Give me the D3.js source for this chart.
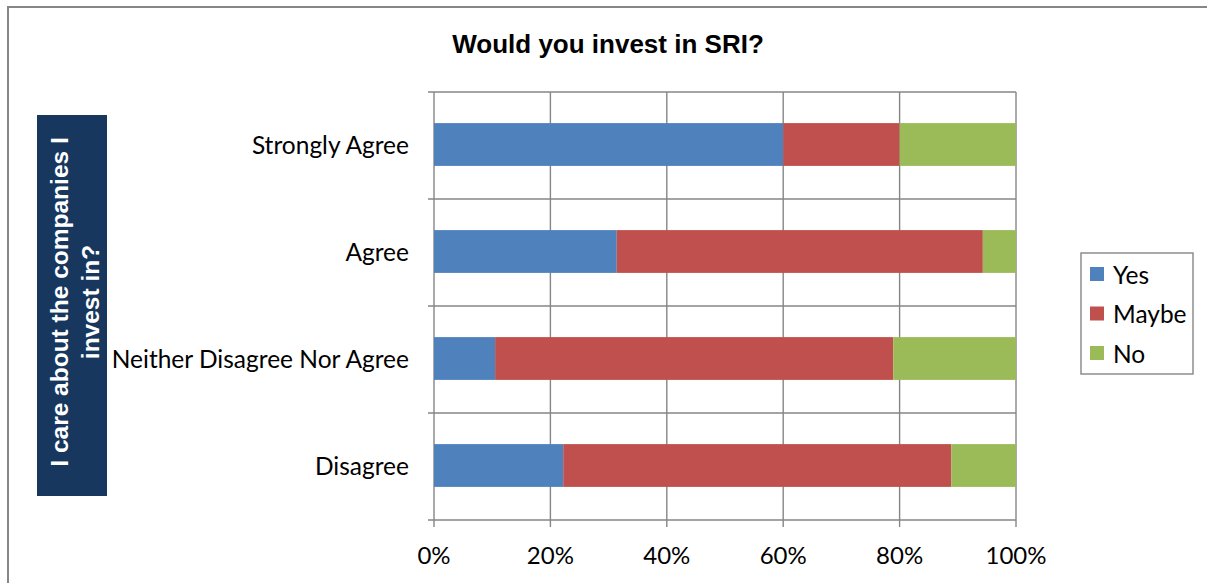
<!DOCTYPE html>
<html>
<head>
<meta charset="utf-8">
<script src="https://cdn.jsdelivr.net/npm/d3@7/dist/d3.min.js"></script>
<style>
  html, body { margin: 0; padding: 0; background: #fff; }
  svg { display: block; }
</style>
</head>
<body>
<svg id="chart" width="1207" height="583"></svg>
<script>
// Survey responses, percent of each agreement group
const categories = ["Strongly Agree", "Agree", "Neither Disagree Nor Agree", "Disagree"];
const seriesNames = ["Yes", "Maybe", "No"];
const yesValues   = [60.0, 31.4, 10.5, 22.2];
const maybeValues = [20.0, 62.9, 68.4, 66.7];
const noValues    = [20.0,  5.7, 21.1, 11.1];
const tickValues  = [0, 20, 40, 60, 80, 100];
const tickLabels  = ["0%", "20%", "40%", "60%", "80%", "100%"];
const colors      = ["#4F81BD", "#C0504D", "#9BBB59"];

const rows = categories.map((c, i) => ({
  category: c, Yes: yesValues[i], Maybe: maybeValues[i], No: noValues[i]
}));

const svg = d3.select("#chart");
const gridColor = "#868686";
const labelFont = "Lato, 'Open Sans', sans-serif";
const boldFont = "'Liberation Sans', Arial, sans-serif";

// outer chart frame (runs off the right and bottom edges)
svg.append("rect")
  .attr("x", 8).attr("y", 7)
  .attr("width", 1260).attr("height", 640)
  .attr("fill", "#fff")
  .attr("stroke", gridColor).attr("stroke-width", 2);

const x = d3.scaleLinear().domain([0, 100]).range([434, 1016]);
const y = d3.scaleBand().domain(categories).range([92, 520]).padding(0);

// vertical gridlines
svg.append("g").selectAll("line").data(tickValues).join("line")
  .attr("x1", d => x(d)).attr("x2", d => x(d))
  .attr("y1", 92).attr("y2", 527)
  .attr("stroke", gridColor).attr("stroke-width", 1.4);

// category boundaries with left tick marks
const bounds = categories.map(c => y(c)).concat([y.range()[1]]);
svg.append("g").selectAll("line").data(bounds).join("line")
  .attr("x1", 428).attr("x2", x(100))
  .attr("y1", d => d).attr("y2", d => d)
  .attr("stroke", gridColor).attr("stroke-width", 1.4);

// stacked bars
const stack = d3.stack().keys(seriesNames)(rows);
const barH = y.bandwidth() * 0.4;
svg.append("g").selectAll("g").data(stack).join("g")
  .attr("fill", (d, i) => colors[i])
  .selectAll("rect").data(d => d).join("rect")
  .attr("x", d => x(d[0]))
  .attr("width", d => x(d[1]) - x(d[0]))
  .attr("y", d => y(d.data.category) + (y.bandwidth() - barH) / 2 - 1)
  .attr("height", barH);

// category labels
svg.append("g").selectAll("text").data(categories).join("text")
  .attr("x", 409)
  .attr("y", c => y(c) + y.bandwidth() / 2 - 1)
  .attr("text-anchor", "end")
  .attr("dominant-baseline", "central")
  .attr("font-family", labelFont).attr("font-size", 24.5)
  .attr("fill", "#000")
  .text(c => c);

// percentage tick labels
svg.append("g").selectAll("text").data(tickValues).join("text")
  .attr("x", d => x(d))
  .attr("y", 554)
  .attr("text-anchor", "middle")
  .attr("dominant-baseline", "central")
  .attr("font-family", labelFont).attr("font-size", 24)
  .attr("fill", "#000")
  .text((d, i) => tickLabels[i]);

// title
svg.append("text")
  .attr("x", 608).attr("y", 53)
  .attr("text-anchor", "middle")
  .attr("font-family", boldFont)
  .attr("font-weight", "bold").attr("font-size", 26)
  .text("Would you invest in SRI?");

// vertical axis title on a dark panel
svg.append("rect")
  .attr("x", 37).attr("y", 115).attr("width", 70).attr("height", 381)
  .attr("fill", "#17375E");
const yTitle = svg.append("text")
  .attr("transform", "translate(0,302) rotate(-90)")
  .attr("text-anchor", "middle")
  .attr("font-family", boldFont)
  .attr("font-weight", "bold").attr("font-size", 24.5)
  .attr("fill", "#fff");
yTitle.append("tspan").attr("x", 0).attr("y", 68).text("I care about the companies I");
yTitle.append("tspan").attr("x", 0).attr("y", 99).text("invest in?");

// legend
svg.append("rect")
  .attr("x", 1081).attr("y", 253).attr("width", 112).attr("height", 121)
  .attr("fill", "#fff").attr("stroke", gridColor).attr("stroke-width", 1.4);
const legend = svg.append("g").selectAll("g").data(seriesNames).join("g")
  .attr("transform", (d, i) => `translate(1090,${274 + i * 39.5})`);
legend.append("rect")
  .attr("x", 0).attr("y", -7).attr("width", 14).attr("height", 14)
  .attr("fill", (d, i) => colors[i]);
legend.append("text")
  .attr("x", 23).attr("y", 0)
  .attr("dominant-baseline", "central")
  .attr("font-family", labelFont).attr("font-size", 24.5)
  .text(d => d);
</script>
</body>
</html>
